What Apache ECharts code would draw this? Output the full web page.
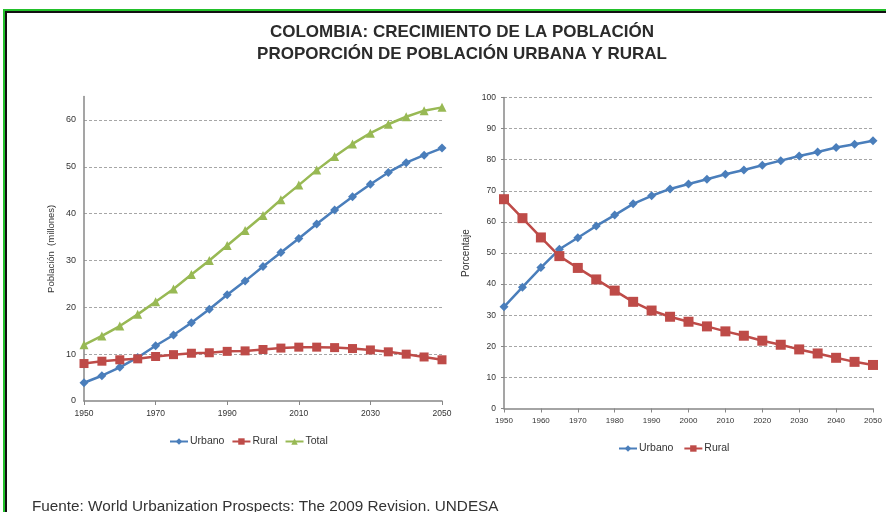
<!DOCTYPE html>
<html>
<head>
<meta charset="utf-8">
<script src="https://cdn.jsdelivr.net/npm/echarts@6/dist/echarts.min.js"></script>
<style>
html,body{margin:0;padding:0;background:#fff;}
#c{width:886px;height:512px;}
</style>
</head>
<body>
<div id="c"></div>
<script>
var years = ['1950','1955','1960','1965','1970','1975','1980','1985','1990','1995','2000','2005','2010','2015','2020','2025','2030','2035','2040','2045','2050'];
var popUrbano = [3.9,5.4,7.2,9.3,11.8,14.1,16.7,19.6,22.7,25.6,28.7,31.7,34.7,37.8,40.8,43.6,46.3,48.8,50.9,52.5,54.0];
var popRural  = [8.0,8.5,8.8,9.0,9.5,9.9,10.2,10.3,10.6,10.7,11.0,11.3,11.5,11.5,11.4,11.2,10.9,10.5,10.0,9.4,8.8];
var popTotal  = [12.0,13.9,16.0,18.5,21.2,23.9,27.0,30.0,33.2,36.4,39.6,43.0,46.1,49.3,52.2,54.9,57.2,59.1,60.7,62.0,62.7];
var pctUrbano = [32.7,39.0,45.3,51.2,54.9,58.7,62.2,65.8,68.4,70.6,72.2,73.7,75.3,76.7,78.2,79.7,81.2,82.5,83.9,85.0,86.1];
var pctRural  = [67.3,61.2,55.0,49.0,45.2,41.5,37.9,34.3,31.5,29.5,27.9,26.4,24.8,23.4,21.8,20.5,19.0,17.7,16.3,15.0,14.0];
var titleText = 'COLOMBIA: CRECIMIENTO DE LA POBLACIÓN\nPROPORCIÓN DE POBLACIÓN URBANA Y RURAL';
var sourceText = 'Fuente: World Urbanization Prospects: The 2009 Revision. UNDESA';

var BLUE = '#4A7EBB', RED = '#BE4B48', GREEN = '#98B954';
var FONT = '"Liberation Sans", Arial, sans-serif';
var axisLineStyle = {color:'#878787', width:1.5};
var gridLineStyle = {color:'#a6a6a6', type:[3,2], width:1};

var chart = echarts.init(document.getElementById('c'), null, {renderer:'canvas'});
chart.setOption({
  backgroundColor:'#ffffff',
  animation:false,
  textStyle:{fontFamily:FONT},
  title:{
    text:titleText, left:457, top:16, textAlign:'center',
    textStyle:{fontFamily:FONT, fontSize:17, fontWeight:'bold', color:'#2b2b2b', lineHeight:22}
  },
  graphic:[
    {type:'rect', shape:{x:3, y:9, width:890, height:2}, style:{fill:'#22c02a'}, silent:true},
    {type:'rect', shape:{x:3, y:9, width:2, height:510}, style:{fill:'#22c02a'}, silent:true},
    {type:'rect', shape:{x:5, y:11, width:890, height:2}, style:{fill:'#111'}, silent:true},
    {type:'rect', shape:{x:5, y:11, width:2, height:510}, style:{fill:'#111'}, silent:true},
    {type:'text', left:32, top:499, style:{text:sourceText, font:'15.3px "Liberation Sans", Arial, sans-serif', fill:'#333'}}
  ],
  legend:[
    {left:164, top:431, itemWidth:18, itemHeight:8, itemGap:7,
     textStyle:{fontSize:10.5, color:'#333', fontFamily:FONT, padding:[0,0,0,-3]},
     data:['Urbano','Rural','Total']},
    {left:613, top:438, itemWidth:18, itemHeight:8, itemGap:7,
     textStyle:{fontSize:10.5, color:'#333', fontFamily:FONT, padding:[0,0,0,-3]},
     data:[{name:'Urbano '}, {name:'Rural '}]}
  ],
  grid:[
    {left:84, right:444, top:96.6, bottom:111, containLabel:false},
    {left:504, right:13, top:97.5, bottom:103.5, containLabel:false}
  ],
  xAxis:[
    {gridIndex:0, type:'category', data:years, boundaryGap:false,
     axisLine:{lineStyle:axisLineStyle},
     axisTick:{show:true, interval:3, length:4, lineStyle:{color:'#878787'}},
     axisLabel:{interval:3, fontSize:8.5, color:'#333', margin:8},
     splitLine:{show:false}},
    {gridIndex:1, type:'category', data:years, boundaryGap:false,
     axisLine:{lineStyle:axisLineStyle},
     axisTick:{show:true, interval:1, length:4, lineStyle:{color:'#878787'}},
     axisLabel:{interval:1, fontSize:8, color:'#333', margin:8},
     splitLine:{show:false}}
  ],
  yAxis:[
    {gridIndex:0, type:'value', min:0, max:65, interval:10,
     name:'Población  (millones)', nameLocation:'middle', nameGap:28, nameRotate:90,
     nameTextStyle:{fontSize:9.5, color:'#333', fontFamily:FONT},
     axisLine:{show:true, lineStyle:axisLineStyle},
     axisTick:{show:false},
     axisLabel:{fontSize:9, color:'#333', margin:8, showMaxLabel:false},
     splitLine:{show:true, showMinLine:false, showMaxLine:false, lineStyle:gridLineStyle}},
    {gridIndex:1, type:'value', min:0, max:100, interval:10,
     name:'Porcentaje', nameLocation:'middle', nameGap:33, nameRotate:90,
     nameTextStyle:{fontSize:10, color:'#333', fontFamily:FONT},
     axisLine:{show:true, lineStyle:axisLineStyle},
     axisTick:{show:true, length:3, lineStyle:{color:'#878787'}},
     axisLabel:{fontSize:8.5, color:'#333', margin:8},
     splitLine:{show:true, showMinLine:false, lineStyle:gridLineStyle}}
  ],
  series:[
    {name:'Urbano', type:'line', xAxisIndex:0, yAxisIndex:0, data:popUrbano,
     symbol:'diamond', symbolSize:9, color:BLUE, lineStyle:{width:2.5, color:BLUE}, itemStyle:{color:BLUE}},
    {name:'Rural', type:'line', xAxisIndex:0, yAxisIndex:0, data:popRural,
     symbol:'rect', symbolSize:9, color:RED, lineStyle:{width:2.5, color:RED}, itemStyle:{color:RED}},
    {name:'Total', type:'line', xAxisIndex:0, yAxisIndex:0, data:popTotal,
     symbol:'triangle', symbolSize:9, color:GREEN, lineStyle:{width:2.5, color:GREEN}, itemStyle:{color:GREEN}},
    {name:'Urbano ', type:'line', xAxisIndex:1, yAxisIndex:1, data:pctUrbano,
     symbol:'diamond', symbolSize:9, color:BLUE, lineStyle:{width:2.5, color:BLUE}, itemStyle:{color:BLUE}},
    {name:'Rural ', type:'line', xAxisIndex:1, yAxisIndex:1, data:pctRural,
     symbol:'rect', symbolSize:10, color:RED, lineStyle:{width:2.5, color:RED}, itemStyle:{color:RED}}
  ]
});
</script>
</body>
</html>
